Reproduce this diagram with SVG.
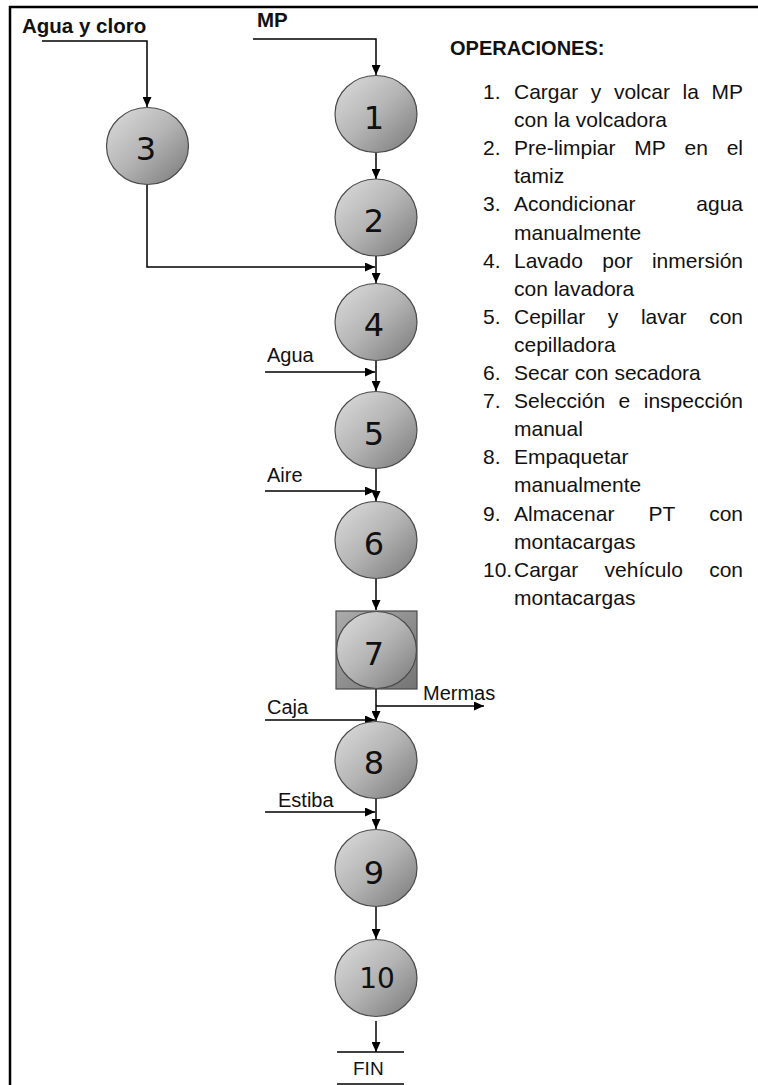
<svg xmlns="http://www.w3.org/2000/svg" width="758" height="1085" viewBox="0 0 758 1085">
<defs>
<linearGradient id="gc" x1="0" y1="0" x2="1" y2="1">
<stop offset="0" stop-color="#dedede"/>
<stop offset="0.5" stop-color="#b4b4b4"/>
<stop offset="1" stop-color="#787878"/>
</linearGradient>
<linearGradient id="gs" x1="0" y1="0" x2="1" y2="1">
<stop offset="0" stop-color="#ababab"/>
<stop offset="1" stop-color="#747474"/>
</linearGradient>
<marker id="ah" markerUnits="userSpaceOnUse" markerWidth="10" markerHeight="9" refX="10" refY="4.5" orient="auto">
<path d="M0,0 L10,4.5 L0,9 z" fill="#000"/>
</marker>
<style>
.node ellipse{fill:url(#gc);stroke:#4a4a4a;stroke-width:1.2}
.num{font-family:"DejaVu Sans",sans-serif;font-size:32px;fill:#111;text-anchor:middle}
.con path{fill:none;stroke:#000;stroke-width:1.5}
.arr{marker-end:url(#ah)}
.lbl{font-family:"Liberation Sans",Arial,sans-serif;font-size:20px;fill:#111}
.blbl{font-family:"Liberation Sans",Arial,sans-serif;font-size:20.5px;font-weight:bold;fill:#111}
.op{font-family:"Liberation Sans",Arial,sans-serif;font-size:21px;fill:#111}
.e{text-anchor:end}
</style>
</defs>
<rect x="0" y="0" width="758" height="1085" fill="#fff"/>
<rect x="10" y="7" width="800" height="1100" fill="none" stroke="#000" stroke-width="2.5"/>

<g class="con">
<path class="arr" d="M253,39 H376 V75"/>
<path class="arr" d="M42,41 H147 V107"/>
<path class="arr" d="M376,153 V179"/>
<path class="arr" d="M147,184 V267 H375"/>
<path class="arr" d="M376,256 V283"/>
<path class="arr" d="M265,372 H375"/>
<path class="arr" d="M376,360 V391"/>
<path class="arr" d="M265,491 H375"/>
<path class="arr" d="M376,468 V501"/>
<path class="arr" d="M376,578 V610"/>
<path class="arr" d="M376,689 V721"/>
<path class="arr" d="M376,706 H484"/>
<path class="arr" d="M265,720 H375"/>
<path class="arr" d="M265,812 H375"/>
<path class="arr" d="M376,798 V829"/>
<path class="arr" d="M376,907 V939"/>
<path class="arr" d="M376,1021 V1052"/>
<path d="M337,1052 H404"/>
<path d="M337,1084 H404"/>
</g>

<text class="blbl" x="22" y="33">Agua y cloro</text>
<text class="blbl" x="257" y="27">MP</text>
<text class="lbl" x="267" y="362">Agua</text>
<text class="lbl" x="267" y="482">Aire</text>
<text class="lbl" x="267" y="714">Caja</text>
<text class="lbl" x="278" y="807">Estiba</text>
<text class="lbl" x="423" y="700">Mermas</text>
<text class="lbl" x="353" y="1075" style="font-size:19px">FIN</text>

<g id="n1" class="node"><ellipse cx="376" cy="114" rx="41" ry="38.5"/><text class="num" x="374" y="129">1</text></g>
<g id="n2" class="node"><ellipse cx="376" cy="217.5" rx="41" ry="38.5"/><text class="num" x="374" y="232">2</text></g>
<g id="n3" class="node"><ellipse cx="147.5" cy="146" rx="41" ry="38.5"/><text class="num" x="146" y="160">3</text></g>
<g id="n4" class="node"><ellipse cx="376" cy="322" rx="41" ry="38.5"/><text class="num" x="374" y="336">4</text></g>
<g id="n5" class="node"><ellipse cx="376" cy="430" rx="41" ry="38.5"/><text class="num" x="374" y="445">5</text></g>
<g id="n6" class="node"><ellipse cx="376" cy="540" rx="41" ry="38.5"/><text class="num" x="374" y="555">6</text></g>
<g id="n7" class="node"><rect x="336" y="611" width="81" height="78" fill="url(#gs)" stroke="#4a4a4a" stroke-width="1.2"/><ellipse cx="376.5" cy="650" rx="40" ry="38.5"/><text class="num" x="374" y="665">7</text></g>
<g id="n8" class="node"><ellipse cx="376" cy="760" rx="41" ry="38.5"/><text class="num" x="374" y="774">8</text></g>
<g id="n9" class="node"><ellipse cx="376" cy="868" rx="41" ry="38.5"/><text class="num" x="374" y="884">9</text></g>
<g id="n10" class="node"><ellipse cx="376" cy="978" rx="41" ry="38.5"/><text class="num" x="377" y="988" style="font-size:28px">10</text></g>

<g id="operaciones">
<text class="blbl" x="450" y="55" style="font-size:20px">OPERACIONES:</text>
<text class="op" x="483" y="99">1.</text>
<text class="op" y="99"><tspan x="514">Cargar</tspan><tspan x="590.8">y</tspan><tspan x="613.9">volcar</tspan><tspan x="682.5">la</tspan></text>
<text class="op e" x="743" y="99">MP</text>
<text class="op" x="514" y="127">con la volcadora</text>
<text class="op" x="483" y="155">2.</text>
<text class="op" y="155"><tspan x="514">Pre-limpiar</tspan><tspan x="634.3">MP</tspan><tspan x="684.6">en</tspan></text>
<text class="op e" x="743" y="155">el</text>
<text class="op" x="514" y="183">tamiz</text>
<text class="op" x="483" y="211">3.</text>
<text class="op" x="514" y="211">Acondicionar</text>
<text class="op e" x="743" y="211">agua</text>
<text class="op" x="514" y="239.5">manualmente</text>
<text class="op" x="483" y="267.5">4.</text>
<text class="op" y="267.5"><tspan x="514">Lavado</tspan><tspan x="602.3">por</tspan></text>
<text class="op e" x="743" y="267.5">inmersión</text>
<text class="op" x="514" y="295.5">con lavadora</text>
<text class="op" x="483" y="323.5">5.</text>
<text class="op" y="323.5"><tspan x="514">Cepillar</tspan><tspan x="607.8">y</tspan><tspan x="640.9">lavar</tspan></text>
<text class="op e" x="743" y="323.5">con</text>
<text class="op" x="514" y="351.5">cepilladora</text>
<text class="op" x="483" y="380">6.</text>
<text class="op" x="514" y="380">Secar con secadora</text>
<text class="op" x="483" y="408">7.</text>
<text class="op" y="408"><tspan x="514">Selección</tspan><tspan x="618.6">e</tspan></text>
<text class="op e" x="743" y="408">inspección</text>
<text class="op" x="514" y="436">manual</text>
<text class="op" x="483" y="464">8.</text>
<text class="op" x="514" y="464">Empaquetar</text>
<text class="op" x="514" y="492">manualmente</text>
<text class="op" x="483" y="520.5">9.</text>
<text class="op" y="520.5"><tspan x="514">Almacenar</tspan><tspan x="648.4">PT</tspan></text>
<text class="op e" x="743" y="520.5">con</text>
<text class="op" x="514" y="548.5">montacargas</text>
<text class="op" x="483" y="576.5">10.</text>
<text class="op" y="576.5"><tspan x="514">Cargar</tspan><tspan x="604.6">vehículo</tspan></text>
<text class="op e" x="743" y="576.5">con</text>
<text class="op" x="514" y="604.5">montacargas</text>
</g>
</svg>
